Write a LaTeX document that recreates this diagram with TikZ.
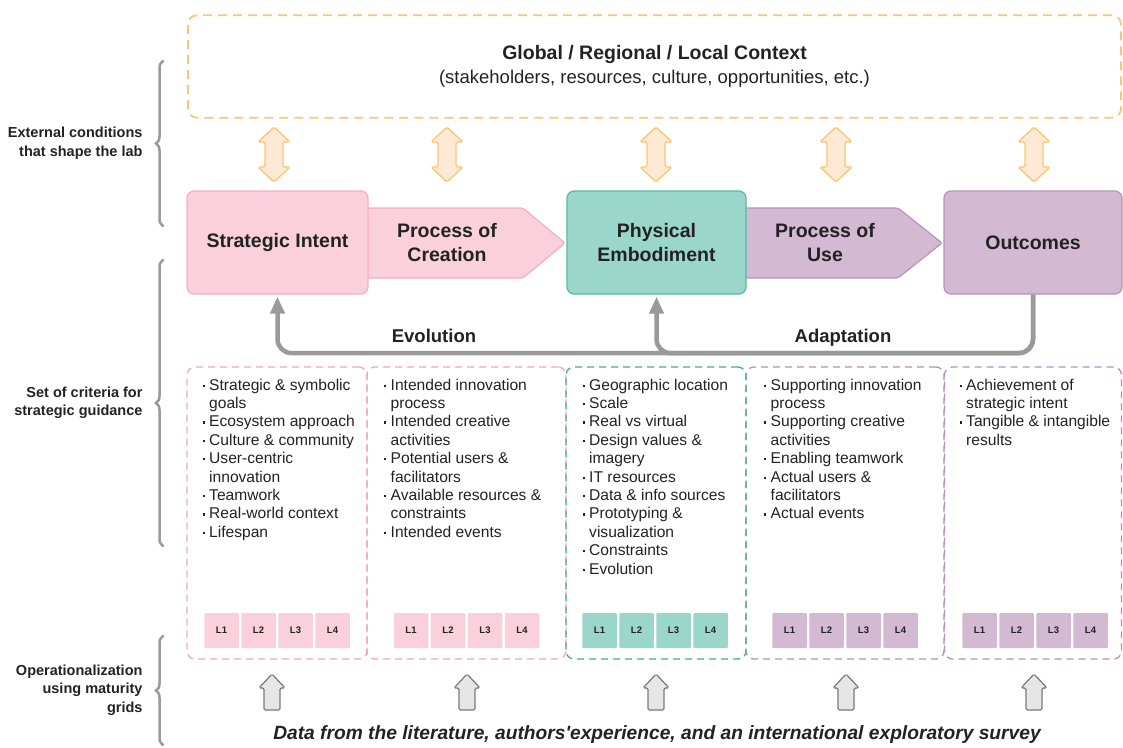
\documentclass[tikz,border=0pt]{standalone}
\usepackage{fontspec}
\setmainfont{Liberation Sans}
\usetikzlibrary{arrows.meta,decorations.pathreplacing}

\definecolor{ink}{HTML}{222222}
\definecolor{pinkfill}{HTML}{F9D0DC}
\definecolor{pinkline}{HTML}{F2AFC4}
\definecolor{pinkdash}{HTML}{F4A3BE}
\definecolor{tealfill}{HTML}{9BD6CA}
\definecolor{tealline}{HTML}{55BBA3}
\definecolor{tealdash}{HTML}{3FAE92}
\definecolor{plumfill}{HTML}{D3B9D1}
\definecolor{plumline}{HTML}{B794BA}
\definecolor{plumdash}{HTML}{B690BC}
\definecolor{ctxline}{HTML}{FFC470}
\definecolor{ctxfill}{HTML}{FEEAD4}
\definecolor{loopgray}{HTML}{9A9A9A}
\definecolor{datafill}{HTML}{E6E6E6}
\definecolor{dataline}{HTML}{7A7A7A}

\newcommand{\bul}{\makebox[6.5pt][l]{\raisebox{3.2pt}{\rule{2.2pt}{2.2pt}}}}
\newcommand{\ind}{\hspace*{6.5pt}}
\newcommand{\straightq}{{\addfontfeature{Ligatures=TeXOff}'}}

\tikzset{
  mainbox/.style={rounded corners=7pt, line width=1.2pt, minimum height=103pt,
    align=center, text=ink, font=\fontsize{19.5}{24}\selectfont\bfseries},
  flowtext/.style={align=center, text=ink, font=\fontsize{19.5}{24}\selectfont\bfseries},
  critbox/.style={dash pattern=on 7pt off 5pt, rounded corners=8pt, line width=1.3pt,
    minimum height=292pt, inner sep=0pt},
  crit/.style={anchor=north west, inner sep=0pt, align=left, text=ink,
    font=\fontsize{15.6}{18.4}\selectfont},
  levelbox/.style={minimum width=34.5pt, minimum height=35pt, inner sep=0pt,
    rounded corners=1pt, text=ink, font=\fontsize{9.5}{10}\selectfont\bfseries},
  feedback/.style={loopgray, line width=4.5pt, rounded corners=14pt,
    -{Triangle[width=14pt,length=17pt]}, shorten >=2pt},
  fblabel/.style={anchor=base, text=ink, font=\fontsize{18.5}{22}\selectfont\bfseries},
  sidelabel/.style={anchor=east, align=right, text=ink, font=\fontsize{14.5}{18.5}\selectfont\bfseries},
  sidebrace/.style={loopgray, line width=2.5pt, line cap=round,
    decorate, decoration={brace, amplitude=7pt}}
}

\begin{document}
\begin{tikzpicture}[x=1pt,y=-1pt]
\useasboundingbox (0,0) rectangle (1123,747);

% Context frame
\node[draw=ctxline, line width=1.8pt, dash pattern=on 9pt off 6pt, rounded corners=9pt,
  minimum width=933pt, minimum height=102.5pt] (context) at (654.5,66.5) {};
\node[align=center, text=ink, font=\fontsize{18.5}{24}\selectfont] (ctxtext) at (654.5,66)
  {{\fontsize{19.5}{24}\selectfont\bfseries Global / Regional / Local Context}\\(stakeholders, resources, culture, opportunities, etc.)};

% Context arrows
\foreach \c in {274,447,656,836,1034}
  \draw[ctxline, fill=ctxfill, line width=1.3pt, rounded corners=1.5pt]
    (\c-9,142) -- (\c-16,142) -- (\c,127) -- (\c+16,142) -- (\c+9,142) -- (\c+9,167)
    -- (\c+16,167) -- (\c,182) -- (\c-16,167) -- (\c-9,167) -- cycle;

% Processes
\draw[pinkline, fill=pinkfill, line width=1.2pt, rounded corners=2pt]
  (360,208) -- (523,208) -- (565,243) -- (523,278) -- (360,278) -- cycle;
\node[flowtext] (creation) at (447,243) {Process of\\Creation};
\draw[plumline, fill=plumfill, line width=1.2pt, rounded corners=2pt]
  (740,208) -- (898,208) -- (942,243) -- (898,278) -- (740,278) -- cycle;
\node[flowtext] (use) at (825,243) {Process of\\Use};

% Stages
\node[mainbox, draw=pinkline, fill=pinkfill, minimum width=181pt] (intent) at (277.5,242.5) {Strategic Intent};
\node[mainbox, draw=tealline, fill=tealfill, minimum width=179pt] (phys) at (656.5,242.5) {Physical\\Embodiment};
\node[mainbox, draw=plumline, fill=plumfill, minimum width=178pt] (outcomes) at (1033,242.5) {Outcomes};

% Feedback loops
\draw[feedback] (outcomes.south) -- ++(0,58.5) -| (intent.south);
\draw[feedback] (outcomes.south) -- ++(0,58.5) -| (phys.south);
\node[fblabel] (evolution) at (434,342.5) {Evolution};
\node[fblabel] (adaptation) at (843,342.5) {Adaptation};

% Criteria columns
\node[critbox, draw=pinkdash, minimum width=180pt] (col1) at (277,513) {};
\node[critbox, draw=pinkdash, minimum width=199pt] (col2) at (466.5,513) {};
\node[critbox, draw=plumdash, minimum width=198pt] (col4) at (845,513) {};
\node[critbox, draw=plumdash, minimum width=177pt] (col5) at (1033,513) {};
\node[critbox, draw=tealdash, minimum width=180pt] (col3) at (656,513) {};

\node[crit] (crit1) at (202.5,378.5) {\bul Strategic \& symbolic\\\ind goals\\\bul Ecosystem approach\\\bul Culture \& community\\\bul User-centric\\\ind innovation\\\bul Teamwork\\\bul Real-world context\\\bul Lifespan};
\node[crit] (crit2) at (384,378.5) {\bul Intended innovation\\\ind process\\\bul Intended creative\\\ind activities\\\bul Potential users \&\\\ind facilitators\\\bul Available resources \&\\\ind constraints\\\bul Intended events};
\node[crit] (crit3) at (582.5,378.5) {\bul Geographic location\\\bul Scale\\\bul Real vs virtual\\\bul Design values \&\\\ind imagery\\\bul IT resources\\\bul Data \& info sources\\\bul Prototyping \&\\\ind visualization\\\bul Constraints\\\bul Evolution};
\node[crit] (crit4) at (764,378.5) {\bul Supporting innovation\\\ind process\\\bul Supporting creative\\\ind activities\\\bul Enabling teamwork\\\bul Actual users \&\\\ind facilitators\\\bul Actual events};
\node[crit] (crit5) at (959.5,378.5) {\bul Achievement of\\\ind strategic intent\\\bul Tangible \& intangible\\\ind results};

% Maturity grids
\foreach \n/\cx/\col in {1/277/pinkfill, 2/466.5/pinkfill, 3/655/tealfill, 4/845/plumfill, 5/1035/plumfill}
  \foreach \i in {1,...,4}
    \node[levelbox, fill=\col] (grid\n\i) at (\cx+\i*37-92.5,630.5) {L\i};

% Data arrows
\foreach \c in {272,467,656,846,1034}
  \draw[dataline, fill=datafill, line width=1.2pt, rounded corners=1.5pt]
    (\c-8,710) -- (\c-8,688) -- (\c-13,688) -- (\c,674) -- (\c+13,688) -- (\c+8,688) -- (\c+8,710) -- cycle;
\node[text=ink, font=\fontsize{19.2}{22}\selectfont\bfseries\itshape] (source) at (657,735)
  {Data from the literature, authors\straightq experience, and an international exploratory survey};

% Side labels
\draw[sidebrace] (163,226) -- (163,61);
\node[sidelabel] (external) at (146,143) {External conditions\\that shape the lab};
\draw[sidebrace] (163,546) -- (163,260);
\node[sidelabel] (criteria) at (146,403) {Set of criteria for\\strategic guidance};
\draw[sidebrace] (163,745) -- (163,636);
\node[sidelabel] (operational) at (146,690) {Operationalization\\using maturity\\grids};

\end{tikzpicture}
\end{document}
